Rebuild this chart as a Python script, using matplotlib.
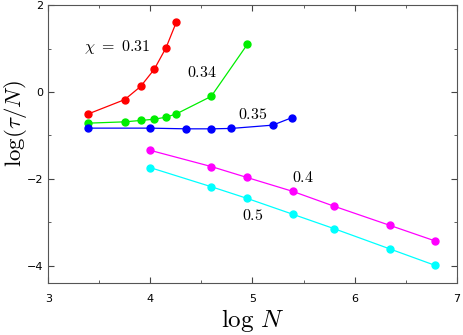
import numpy as np
import matplotlib
matplotlib.use('Agg')
import matplotlib.pyplot as plt
from matplotlib.ticker import MultipleLocator

plt.rcParams['mathtext.fontset'] = 'cm'

# chi = 0.31
x_031 = [3.392, 3.748, 3.905, 4.038, 4.153, 4.254]
y_031 = [-0.503, -0.174, 0.131, 0.526, 1.021, 1.611]
# chi = 0.34
x_034 = [3.392, 3.748, 3.905, 4.038, 4.153, 4.254, 4.596, 4.949]
y_034 = [-0.716, -0.686, -0.654, -0.625, -0.579, -0.503, -0.098, 1.098]
# chi = 0.35
x_035 = [3.392, 3.996, 4.346, 4.596, 4.792, 5.198, 5.390]
y_035 = [-0.831, -0.831, -0.847, -0.847, -0.838, -0.762, -0.586]
# chi = 0.4 and 0.5
x_04 = [3.996, 4.596, 4.946, 5.394, 5.801, 6.347, 6.790]
y_04 = [-1.341, -1.716, -1.968, -2.288, -2.632, -3.073, -3.432]
x_05 = [3.996, 4.596, 4.946, 5.394, 5.801, 6.347, 6.790]
y_05 = [-1.739, -2.181, -2.449, -2.815, -3.149, -3.616, -3.995]

series = [
    (x_031, y_031, 'red'),
    (x_034, y_034, '#00ee00'),
    (x_035, y_035, 'blue'),
    (x_04, y_04, 'magenta'),
    (x_05, y_05, 'cyan'),
]

fig = plt.figure(figsize=(4.63, 3.35), dpi=100)
ax = fig.add_axes([0.1043, 0.1552, 0.8821, 0.829])

for xs, ys, c in series:
    ax.plot(xs, ys, '-o', color=c, lw=0.9, ms=5)

ax.text(3.68, 1.05, r'$\chi\ =\ 0.31$', fontsize=11.5, ha='center', va='center')
ax.text(4.51, 0.45, r'$0.34$', fontsize=11.5, ha='center', va='center')
ax.text(5.0, -0.51, r'$0.35$', fontsize=11.5, ha='center', va='center')
ax.text(5.49, -1.98, r'$0.4$', fontsize=11.5, ha='center', va='center')
ax.text(5.0, -2.84, r'$0.5$', fontsize=11.5, ha='center', va='center')

ax.set_xlim(3, 7)
ax.set_ylim(-4.4, 2)
ax.xaxis.set_major_locator(MultipleLocator(1))
ax.xaxis.set_minor_locator(MultipleLocator(0.5))
ax.yaxis.set_major_locator(MultipleLocator(2))
ax.yaxis.set_minor_locator(MultipleLocator(1))
ax.tick_params(which='both', direction='in', top=True, right=True, labelsize=8, color='#444444')
ax.tick_params(which='major', length=4)
ax.tick_params(which='minor', length=2.5)
ax.tick_params(axis='x', pad=8)
for s in ax.spines.values():
    s.set_color('#555555')

ax.set_xlabel(r'$\log\, N$', fontsize=18, labelpad=2)
ax.set_ylabel(r'$\log(\tau/N)$', fontsize=16.5)
ax.yaxis.set_label_coords(-0.047, 0.575)

fig.savefig('out.png', dpi=100)
